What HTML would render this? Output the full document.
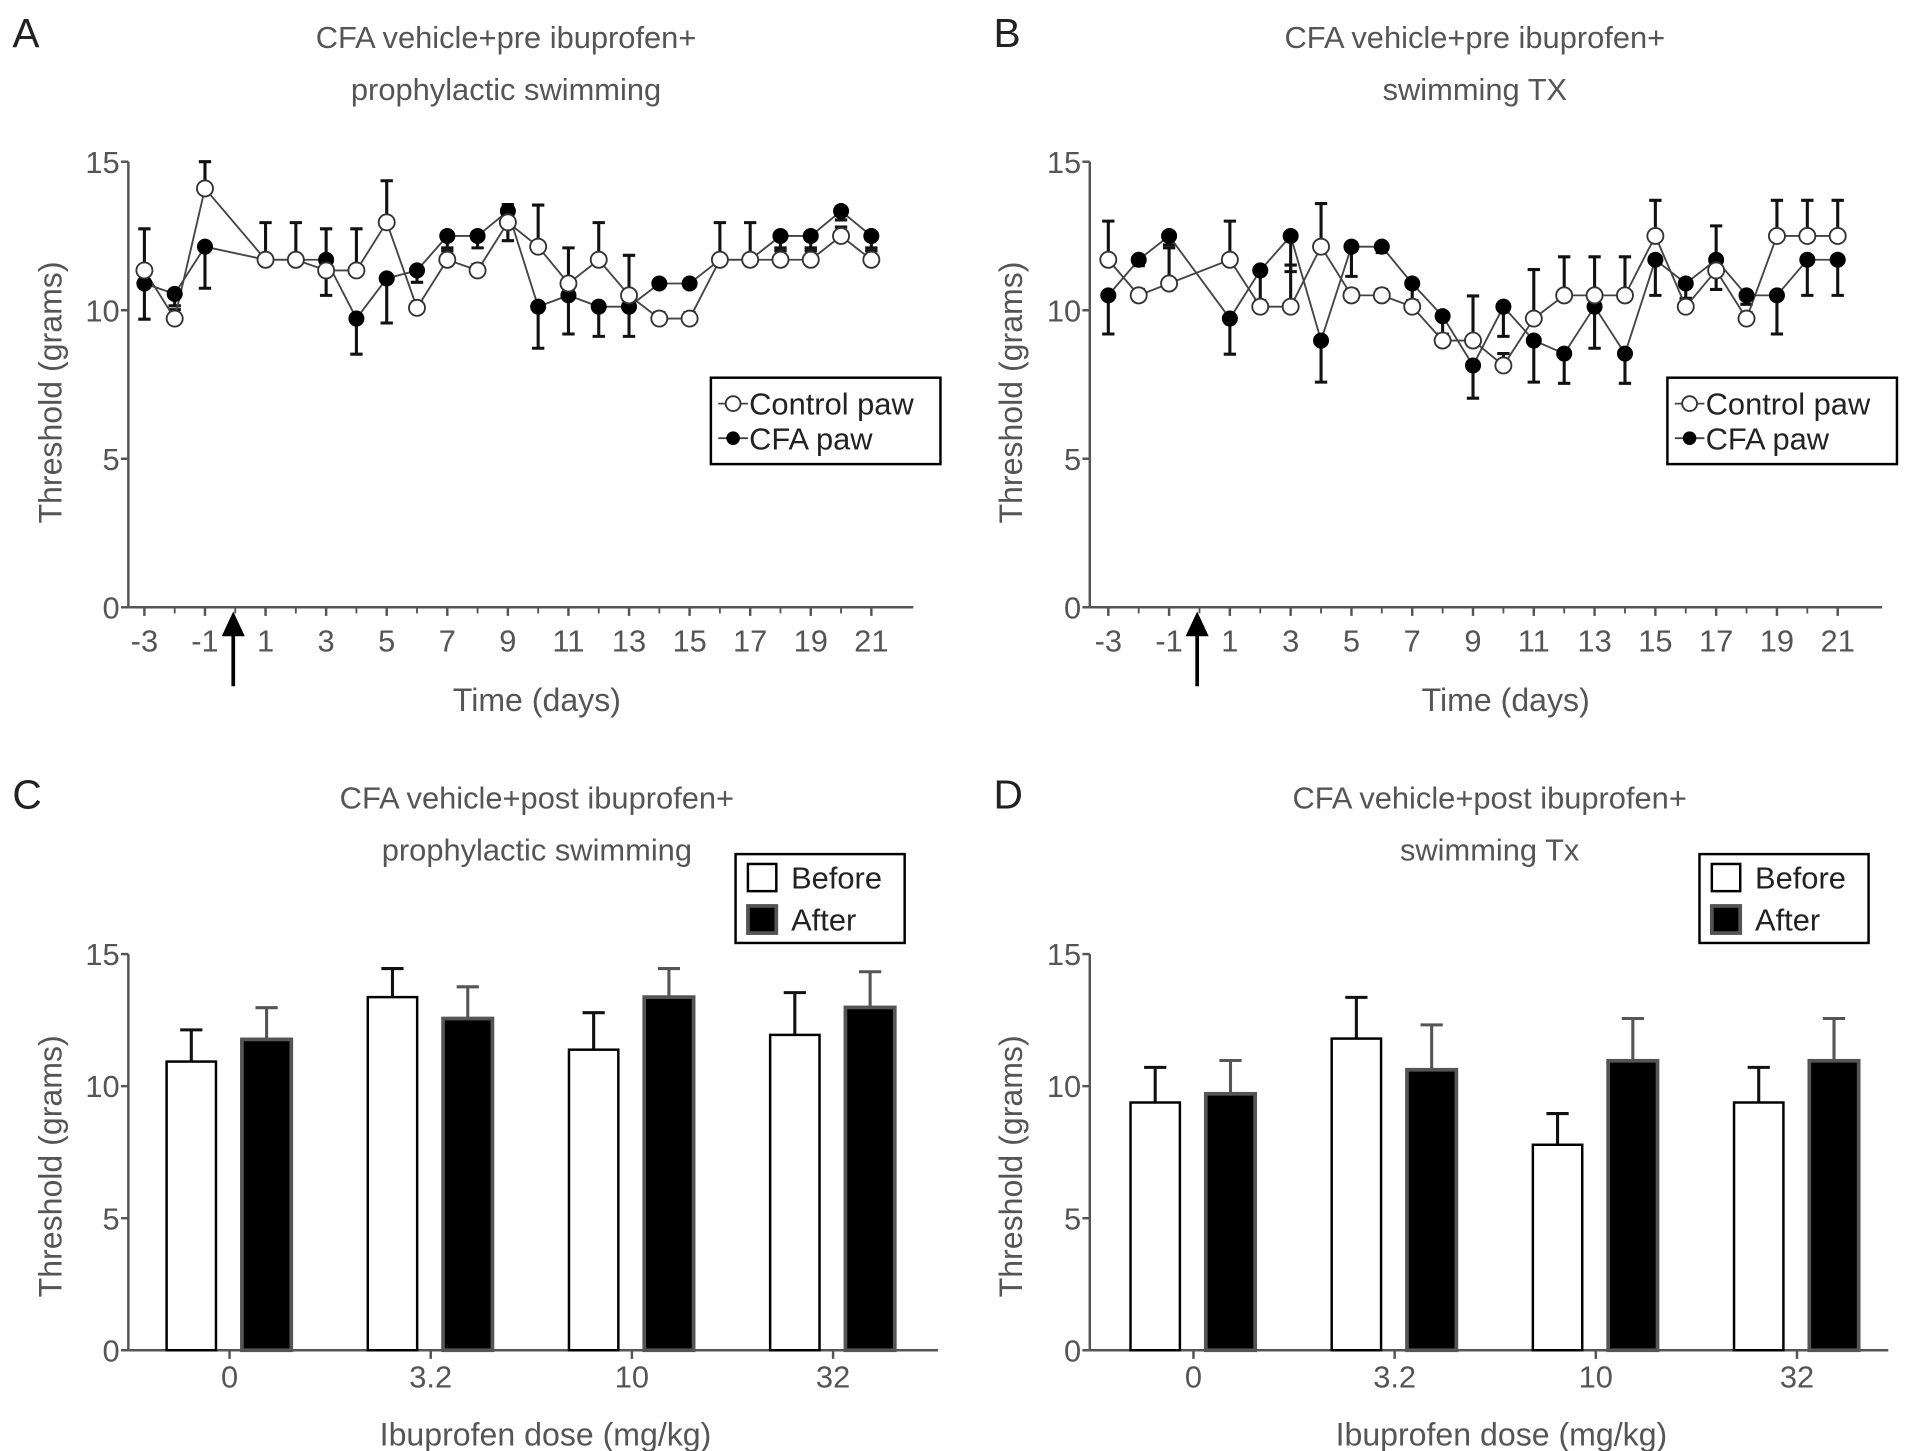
<!DOCTYPE html>
<html><head><meta charset="utf-8">
<style>
html,body{margin:0;padding:0;background:#fff;}
svg{display:block;}
text{font-family:"Liberation Sans",sans-serif;}
</style></head>
<body>
<svg id="fig" width="1913" height="1451" viewBox="0 0 1550 1175.6" xmlns="http://www.w3.org/2000/svg"></svg>
<script>
// ---- Panel A data ----
const daysA = [-3,-2,-1,1,2,3,4,5,6,7,8,9,10,11,12,13,14,15,16,17,18,19,20,21];
const ctrlA = [11.34,9.72,14.1,11.7,11.7,11.34,11.34,12.96,10.08,11.7,11.34,12.96,12.14,10.9,11.7,10.5,9.72,9.72,11.7,11.7,11.7,11.7,12.5,11.7];
const ctrlErrA = [1.4,0.3,0.9,1.25,1.25,1.4,1.4,1.4,0.2,0.3,0.2,0.6,1.4,1.2,1.25,1.35,0.2,0.2,1.25,1.25,0.3,0.3,0.3,0.3];
const cfaA = [10.9,10.55,12.14,11.7,11.7,11.7,9.72,11.07,11.34,12.5,12.5,13.34,10.12,10.5,10.12,10.12,10.9,10.9,11.7,11.7,12.5,12.5,13.34,12.5];
const cfaErrA = [1.2,0.4,1.4,0,0,1.2,1.2,1.5,0.4,0.4,0.4,1.0,1.4,1.3,1.0,1.0,0,0,0,0,0.4,0.4,0.3,0.4];
// ---- Panel B data ----
const daysB = [-3,-2,-1,1,2,3,4,5,6,7,8,9,10,11,12,13,14,15,16,17,18,19,20,21];
const ctrlB = [11.7,10.5,10.9,11.7,10.12,10.12,12.14,10.5,10.5,10.12,8.98,8.98,8.14,9.72,10.5,10.5,10.5,12.5,10.12,11.34,9.72,12.5,12.5,12.5];
const ctrlErrB = [1.3,0.2,1.2,1.3,0.2,1.4,1.45,0.2,0.2,0.2,0.2,1.5,0.4,1.65,1.3,1.3,1.3,1.2,0.2,1.5,0.2,1.2,1.2,1.2];
const cfaB = [10.5,11.7,12.5,9.72,11.34,12.5,8.98,12.14,12.14,10.9,9.8,8.14,10.12,8.98,8.54,10.12,8.54,11.7,10.9,11.7,10.5,10.5,11.7,11.7];
const cfaErrB = [1.3,0.2,0.3,1.2,1.3,1.2,1.4,1.0,0.2,0.7,0.6,1.1,1.0,1.4,1.0,1.4,1.0,1.2,0.5,1.0,0.3,1.3,1.2,1.2];
// ---- Panel C/D data ----
const doses = ["0","3.2","10","32"];
const beforeC = [10.93,13.37,11.38,11.94];
const beforeErrC = [1.2,1.08,1.4,1.6];
const afterC = [11.77,12.56,13.37,12.98];
const afterErrC = [1.2,1.2,1.08,1.35];
const beforeD = [9.38,11.8,7.78,9.38];
const beforeErrD = [1.33,1.56,1.18,1.33];
const afterD = [9.71,10.62,10.96,10.96];
const afterErrD = [1.26,1.7,1.6,1.6];
const yTicks = [0,5,10,15];
const xTickDays = [-3,-1,1,3,5,7,9,11,13,15,17,19,21];

const NS="http://www.w3.org/2000/svg";
const svg=document.getElementById('fig');
function mk(tag,attrs,parent,txt){const e=document.createElementNS(NS,tag);for(const k in attrs)e.setAttribute(k,attrs[k]);if(txt!==undefined)e.textContent=txt;(parent||svg).appendChild(e);return e;}
const GREY="#555";

function axesCommon(g,x0,x1,yScale,titleLines,tcx,letter,lx,ytitleX,ytitleY){
  const t=mk('text',{x:lx,y:38+(letter==='C'||letter==='D'?617:0),'font-size':33,fill:'#222'},g,letter);
  
  
  titleLines.forEach((s,i)=>{
    const tt=mk('text',{x:tcx,y:titleLines.y0+i*42,'text-anchor':'middle','font-size':25,fill:GREY},g,s);
    
    
  });
  const ax=mk('line',{x1:x0,x2:x0,y1:yScale(15),y2:yScale(0),stroke:GREY,'stroke-width':2},g);
  
  
  const bx=mk('line',{x1:x0,x2:x1,y1:yScale(0),y2:yScale(0),stroke:GREY,'stroke-width':2},g);
  
  
  yTicks.forEach(v=>{
    const y=yScale(v);
    mk('line',{x1:x0-6,x2:x0,y1:y,y2:y,stroke:GREY,'stroke-width':2},g);
    const l=mk('text',{x:x0-7,y:y+9,'text-anchor':'end','font-size':25,fill:GREY},g,String(v));
    
    
  });
  const yt=mk('text',{x:ytitleX,y:ytitleY,'text-anchor':'middle','font-size':26,fill:GREY,transform:`rotate(-90 ${ytitleX} ${ytitleY})`},g,'Threshold (grams)');
  
  
}

function linePanel(id,letter,lx,x0,x1,xA,xB,days,ctrl,ctrlErr,cfa,cfaErr,title,tcx,arrowX,legX,ytx){
  const g=mk('g',{});
  
  
  const yS=v=>492-(v/15)*361;
  const xS=d=>xA+(d+3)*(xB-xA)/24;
  title.y0=39;
  axesCommon(g,x0,x1,yS,title,tcx,letter,lx,ytx,318);
  xTickDays.forEach(d=>{
    const x=xS(d);
    mk('line',{x1:x,x2:x,y1:492,y2:499,stroke:GREY,'stroke-width':2},g);
    const l=mk('text',{x:x,y:528,'text-anchor':'middle','font-size':25,fill:GREY},g,String(d));
    
    
  });
  [-2,0,2,4,6,8,10,12,14,16,18,20].forEach(d=>{const x=xS(d);mk('line',{x1:x,x2:x,y1:492,y2:497,stroke:GREY,'stroke-width':1.5},g);});
  const xt=mk('text',{x:tcx+25,y:576,'text-anchor':'middle','font-size':26,fill:GREY},g,'Time (days)');
  
  
  const ar=mk('path',{d:`M${arrowX} 556 L${arrowX} 512 M${arrowX-7} 514 L${arrowX} 499 L${arrowX+7} 514 Z`,stroke:'#000','stroke-width':3,fill:'#000'},g);
  
  
  function errs(vals,es,dir,name){
    vals.forEach((v,i)=>{
      if(es[i]<=0.05)return;
      const x=xS(days[i]),y1=yS(v),y2=yS(v+dir*es[i]);
      const e=mk('path',{d:`M${x} ${y1} L${x} ${y2} M${x-5} ${y2} L${x+5} ${y2}`,stroke:'#111','stroke-width':2.5,fill:'none'},g);
      
      
    });
  }
  errs(ctrl,ctrlErr,1,'control-error-bar');
  errs(cfa,cfaErr,-1,'cfa-error-bar');
  const pl=(vals)=>vals.map((v,i)=>`${xS(days[i])},${yS(v)}`).join(' ');
  const l1=mk('polyline',{points:pl(cfa),fill:'none',stroke:'#444','stroke-width':1.5},g);
  
  
  const l2=mk('polyline',{points:pl(ctrl),fill:'none',stroke:'#444','stroke-width':1.5},g);
  
  
  cfa.forEach((v,i)=>{
    const c=mk('circle',{cx:xS(days[i]),cy:yS(v),r:6,fill:'#000',stroke:'#000','stroke-width':1},g);
    
    
  });
  ctrl.forEach((v,i)=>{
    const c=mk('circle',{cx:xS(days[i]),cy:yS(v),r:6.5,fill:'#fff',stroke:'#333','stroke-width':1.5},g);
    
    
  });
  const lg=mk('g',{},g);
  
  
  mk('rect',{x:legX,y:306,width:186,height:70,fill:'#fff',stroke:'#000','stroke-width':2},lg);
  mk('line',{x1:legX+6,x2:legX+30,y1:327,y2:327,stroke:'#444','stroke-width':1.5},lg);
  mk('circle',{cx:legX+18,cy:327,r:6,fill:'#fff',stroke:'#333','stroke-width':1.5},lg);
  const t1=mk('text',{x:legX+31,y:336,'font-size':25,fill:'#222'},lg,'Control paw');
  
  
  mk('line',{x1:legX+6,x2:legX+30,y1:355,y2:355,stroke:'#444','stroke-width':1.5},lg);
  mk('circle',{cx:legX+18,cy:355,r:5.5,fill:'#000'},lg);
  const t2=mk('text',{x:legX+31,y:364,'font-size':25,fill:'#222'},lg,'CFA paw');
  
  
}

function barPanel(id,letter,lx,x0,x1,g0,before,bErr,after,aErr,title,tcx,legX,ytx){
  const g=mk('g',{});
  
  
  const yS=v=>1094-(v/15)*321;
  const gx=i=>g0+i*163;
  title.y0=655;
  axesCommon(g,x0,x1,yS,title,tcx,letter,lx,ytx,945);
  doses.forEach((d,i)=>{
    const x=gx(i);
    mk('line',{x1:x,x2:x,y1:1094,y2:1101,stroke:GREY,'stroke-width':2},g);
    const l=mk('text',{x:x,y:1124,'text-anchor':'middle','font-size':25,fill:GREY},g,d);
    
    
  });
  const xt=mk('text',{x:(x0+x1)/2+10,y:1171,'text-anchor':'middle','font-size':26,fill:GREY},g,'Ibuprofen dose (mg/kg)');
  
  
  function bars(vals,es,off,fill,stroke,sw,name){
    vals.forEach((v,i)=>{
      const cx=gx(i)+off,top=yS(v),cap=yS(v+es[i]);
      const e=mk('path',{d:`M${cx} ${top} L${cx} ${cap} M${cx-9} ${cap} L${cx+9} ${cap}`,stroke:fill==='#000'?'#555':'#111','stroke-width':2.5,fill:'none'},g);
      
      
      const r=mk('rect',{x:cx-20,y:top,width:40,height:1094-top,fill:fill,stroke:stroke,'stroke-width':sw},g);
      
      
    });
  }
  bars(before,bErr,-31,'#fff','#000',2,'before');
  bars(after,aErr,30,'#000','#555',3,'after');
  const lg=mk('g',{},g);
  
  
  mk('rect',{x:legX,y:692,width:137,height:72,fill:'#fff',stroke:'#000','stroke-width':2},lg);
  mk('rect',{x:legX+10,y:700,width:23,height:22,fill:'#fff',stroke:'#000','stroke-width':2},lg);
  const t1=mk('text',{x:legX+45,y:720,'font-size':25,fill:'#222'},lg,'Before');
  
  
  mk('rect',{x:legX+10,y:734,width:23,height:22,fill:'#000',stroke:'#555','stroke-width':3},lg);
  const t2=mk('text',{x:legX+45,y:754,'font-size':25,fill:'#222'},lg,'After');
  
  
}

linePanel('panel-a','A',10,104,740,117,706,daysA,ctrlA,ctrlErrA,cfaA,cfaErrA,['CFA vehicle+pre ibuprofen+','prophylactic swimming'],410,189,576,50);
linePanel('panel-b','B',805,883,1525,898,1489,daysB,ctrlB,ctrlErrB,cfaB,cfaErrB,['CFA vehicle+pre ibuprofen+','swimming TX'],1195,970,1351,828);
barPanel('panel-c','C',10,104,760,186,beforeC,beforeErrC,afterC,afterErrC,['CFA vehicle+post ibuprofen+','prophylactic swimming'],435,596,50);
barPanel('panel-d','D',805,883,1530,967,beforeD,beforeErrD,afterD,afterErrD,['CFA vehicle+post ibuprofen+','swimming Tx'],1207,1377,828);
</script>
</body></html>
